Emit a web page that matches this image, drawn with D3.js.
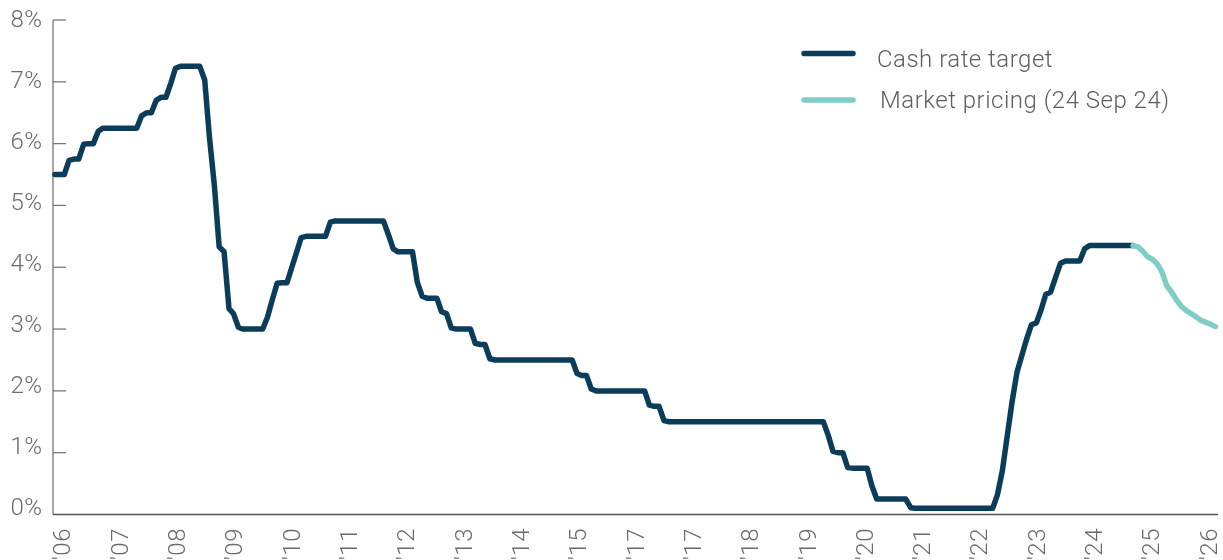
<!DOCTYPE html>
<head>
  <meta charset="utf-8">
  <script src="https://d3js.org/d3.v7.min.js"></script>
  <style>
    body { margin:0;position:fixed;top:0;right:0;bottom:0;left:0;background:#fff; }
    text { font-family: Roboto, "Noto Sans", sans-serif; font-weight:300; letter-spacing:0.5px; }
  </style>
</head>

<body>
  <script>

    // monthly cash rate, Feb 2006 .. Sep 2024
    var startMonth = new Date(2006, 1, 1)
    var cashRate = [
      5.50,5.50,5.50,5.73,5.75,5.75,5.99,6.00,6.00,6.20,6.25,
      6.25,6.25,6.25,6.25,6.25,6.25,6.25,6.45,6.50,6.50,6.70,6.75,
      6.75,6.98,7.22,7.25,7.25,7.25,7.25,7.25,7.03,6.10,5.32,4.33,
      4.25,3.33,3.25,3.03,3.00,3.00,3.00,3.00,3.00,3.19,3.48,3.74,
      3.75,3.75,3.98,4.23,4.48,4.50,4.50,4.50,4.50,4.50,4.73,4.75,
      4.75,4.75,4.75,4.75,4.75,4.75,4.75,4.75,4.75,4.75,4.53,4.30,
      4.25,4.25,4.25,4.25,3.76,3.53,3.50,3.50,3.50,3.28,3.25,3.02,
      3.00,3.00,3.00,3.00,2.77,2.75,2.75,2.52,2.50,2.50,2.50,2.50,
      2.50,2.50,2.50,2.50,2.50,2.50,2.50,2.50,2.50,2.50,2.50,2.50,
      2.50,2.28,2.25,2.25,2.03,2.00,2.00,2.00,2.00,2.00,2.00,2.00,
      2.00,2.00,2.00,2.00,1.77,1.75,1.75,1.52,1.50,1.50,1.50,1.50,
      1.50,1.50,1.50,1.50,1.50,1.50,1.50,1.50,1.50,1.50,1.50,1.50,
      1.50,1.50,1.50,1.50,1.50,1.50,1.50,1.50,1.50,1.50,1.50,1.50,
      1.50,1.50,1.50,1.50,1.50,1.28,1.02,1.00,1.00,0.76,0.75,0.75,
      0.75,0.75,0.47,0.25,0.25,0.25,0.25,0.25,0.25,0.25,0.11,0.10,
      0.10,0.10,0.10,0.10,0.10,0.10,0.10,0.10,0.10,0.10,0.10,0.10,
      0.10,0.10,0.10,0.10,0.32,0.71,1.26,1.82,2.30,2.57,2.84,3.07,
      3.10,3.32,3.56,3.60,3.83,4.06,4.10,4.10,4.10,4.10,4.30,4.35,
      4.35,4.35,4.35,4.35,4.35,4.35,4.35,4.35,4.35
    ]

    // market pricing (24 Sep 24), Sep 2024 .. Feb 2026
    var pricingStart = new Date(2024, 8, 1)
    var marketPricing = [
      4.35,4.33,4.26,4.17,4.13,4.05,3.93,3.70,3.60,3.47,3.37,3.30,
      3.25,3.20,3.14,3.11,3.08,3.04
    ]

    var tickLabels = ["'06","'07","'08","'09","'10","'11","'12","'13","'14","'15",
                      "'17","'17","'18","'19","'20","'21","'22","'23","'24","'25","'26"]
    var yTicks = [0,1,2,3,4,5,6,7,8]

    var seriesNames = ["Cash rate target", "Market pricing (24 Sep 24)"]
    var colors = ["#0b3d5b", "#80cdc8"]

    var svg = d3.select("body").append("svg")
      .attr("width", 1223)
      .attr("height", 560)

    var plot = {left: 53, right: 1218, top: 20, bottom: 514.5}

    var cashData = cashRate.map(function(v,i){ return {date: d3.timeMonth.offset(startMonth, i), value: v} })
    var pricingData = marketPricing.map(function(v,i){ return {date: d3.timeMonth.offset(pricingStart, i), value: v} })

    var x = d3.scaleTime()
      .domain([startMonth, new Date(2026, 1, 1)])
      .range([54.9, 1215.4])

    var y = d3.scaleLinear().domain([0, 8]).range([plot.bottom, plot.top])
    // label baselines sit a little off the ticks in the original
    var yLab = d3.scaleLinear().domain([0, 8]).range([515, 26.7])

    var xLab = d3.scalePoint().domain(d3.range(tickLabels.length)).range([62, 1208.3])

    // y axis
    svg.append('line')
      .attr('x1', plot.left).attr('x2', plot.left)
      .attr('y1', plot.top).attr('y2', plot.bottom)
      .attr('stroke', '#777').attr('stroke-width', 1.3)

    svg.selectAll('.ytick')
      .data(yTicks.slice(1))
      .enter()
      .append('line')
      .attr('class', 'ytick')
      .attr('x1', plot.left).attr('x2', plot.left + 13)
      .attr('y1', function(d){ return y(d) })
      .attr('y2', function(d){ return y(d) })
      .attr('stroke', '#777').attr('stroke-width', 1.3)

    svg.selectAll('.ylab')
      .data(yTicks)
      .enter()
      .append('text')
      .attr('class', 'ylab')
      .attr('x', 42.5)
      .attr('y', function(d){ return yLab(d) })
      .attr('text-anchor', 'end')
      .attr('fill', '#6b6b6b')
      .style('font-size', '24px')
      .text(function(d){ return d + '%' })

    // x axis
    svg.append('line')
      .attr('x1', plot.left).attr('x2', plot.right)
      .attr('y1', plot.bottom).attr('y2', plot.bottom)
      .attr('stroke', '#555').attr('stroke-width', 1.5)

    svg.selectAll('.xlab')
      .data(tickLabels)
      .enter()
      .append('text')
      .attr('class', 'xlab')
      .attr('transform', function(d,i){ return 'translate(' + xLab(i) + ',528) rotate(-90)' })
      .attr('dy', '0.35em')
      .attr('text-anchor', 'end')
      .attr('fill', '#6b6b6b')
      .style('font-size', '24px')
      .text(function(d){ return d })

    // lines
    var line = d3.line()
      .x(function(d){ return x(d.date) })
      .y(function(d){ return y(d.value) })

    svg.append('path')
      .datum(cashData)
      .attr('d', line)
      .attr('fill', 'none')
      .attr('stroke', colors[0])
      .attr('stroke-width', 5.5)
      .attr('stroke-linejoin', 'round')
      .attr('stroke-linecap', 'round')

    svg.append('path')
      .datum(pricingData)
      .attr('d', line)
      .attr('fill', 'none')
      .attr('stroke', colors[1])
      .attr('stroke-width', 5.5)
      .attr('stroke-linejoin', 'round')
      .attr('stroke-linecap', 'round')

    // legend
    var legend = svg.selectAll('.legend')
      .data(seriesNames)
      .enter()
      .append('g')
      .attr('class', 'legend')
      .attr('transform', function(d,i){ return 'translate(0,' + (i == 0 ? 53.5 : 100) + ')' })

    legend.append('line')
      .attr('x1', 804).attr('x2', 853)
      .attr('stroke', function(d,i){ return colors[i] })
      .attr('stroke-width', 5.5)
      .attr('stroke-linecap', 'round')

    legend.append('text')
      .attr('x', function(d,i){ return i == 0 ? 877 : 880 })
      .attr('y', function(d,i){ return i == 0 ? 13 : 7.5 })
      .attr('fill', '#5e5e5e')
      .style('font-size', '24px')
      .text(function(d){ return d })

  </script>
</body>
